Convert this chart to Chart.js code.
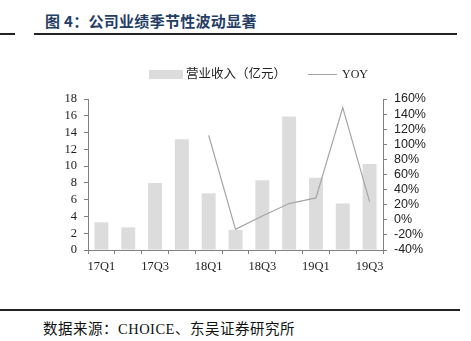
<!DOCTYPE html>
<html>
<head>
<meta charset="utf-8">
<script src="https://cdn.jsdelivr.net/npm/chart.js@4/dist/chart.umd.min.js"></script>
<style>
  html, body { margin: 0; padding: 0; background: #fff; }
  body { width: 471px; height: 341px; position: relative; overflow: hidden; }
  #title {
    position: absolute; left: 45px; top: 10px;
    font: bold 15px "Noto Sans CJK SC", sans-serif; color: #243e66;
    letter-spacing: 0.3px;
  }
  .rule { position: absolute; height: 2px; background: #222; }
  #source {
    position: absolute; left: 43px; top: 317px;
    font: 14.5px "Liberation Serif", "Noto Sans CJK SC", serif; color: #111;
    letter-spacing: 0.5px;
  }
  #wrap { position: absolute; left: 0; top: 60px; width: 471px; height: 240px; }
</style>
</head>
<body>
<div id="title">图 4：公司业绩季节性波动显著</div>
<div class="rule" style="left:0;top:33px;width:15px"></div>
<div class="rule" style="left:34px;top:33px;width:423px"></div>
<div id="wrap"><canvas id="myChart" width="471" height="240"></canvas></div>
<div class="rule" style="left:0;top:309px;width:460px"></div>
<div id="source">数据来源：CHOICE、东吴证券研究所</div>

<script>
// quarters shown on the x axis
const quarters = ['17Q1', '17Q2', '17Q3', '17Q4', '18Q1', '18Q2', '18Q3', '18Q4', '19Q1', '19Q2', '19Q3'];
// revenue per quarter (亿元)
const revenue = [3.3, 2.7, 8.0, 13.2, 6.75, 2.4, 8.3, 15.9, 8.6, 5.55, 10.25];
// year-over-year growth (%), no comparison for 2017
const yoy = [null, null, null, null, 112, -12.6, 5, 21.5, 29, 148.5, 24];

const axisColor = '#808080';

// legend drawn by hand so the two items can have different swatch shapes
const legendPlugin = {
    id: 'manualLegend',
    afterDraw(chart) {
        const ctx = chart.ctx;
        ctx.save();
        ctx.fillStyle = '#dcdcdc';
        ctx.fillRect(149, 10, 34, 9);
        ctx.strokeStyle = '#a5a5a5';
        ctx.lineWidth = 1;
        ctx.beginPath();
        ctx.moveTo(308, 14.5);
        ctx.lineTo(337, 14.5);
        ctx.stroke();
        ctx.fillStyle = '#222';
        ctx.textBaseline = 'middle';
        ctx.font = '12.5px "Liberation Serif", "Noto Sans CJK SC", serif';
        ctx.fillText('营业收入（亿元）', 186, 15);
        ctx.font = '12px "Liberation Serif", serif';
        ctx.fillText('YOY', 342, 15);
        ctx.restore();
    }
};

const ctx = document.getElementById('myChart').getContext('2d');
new Chart(ctx, {
    type: 'bar',
    data: {
        labels: quarters,
        datasets: [{
            type: 'line',
            label: 'YOY',
            data: yoy,
            yAxisID: 'y1',
            borderColor: '#a5a5a5',
            borderWidth: 1.2,
            pointRadius: 0,
            tension: 0,
            spanGaps: false,
            order: 0
        }, {
            label: '营业收入（亿元）',
            data: revenue,
            yAxisID: 'y',
            backgroundColor: '#dcdcdc',
            borderWidth: 0,
            barPercentage: 0.52,
            categoryPercentage: 1,
            order: 1
        }]
    },
    options: {
        responsive: false,
        devicePixelRatio: 1,
        animation: false,
        layout: { padding: { left: 50, right: 5, top: 39, bottom: 0 } },
        plugins: {
            legend: { display: false },
            tooltip: { enabled: false }
        },
        scales: {
            x: {
                offset: true,
                grid: {
                    offset: true,
                    drawOnChartArea: false,
                    tickLength: 4,
                    color: axisColor
                },
                border: { color: axisColor },
                ticks: {
                    autoSkip: false,
                    maxRotation: 0,
                    padding: 5,
                    color: '#222',
                    font: { family: 'Liberation Serif', size: 12.5 },
                    callback: (v, i) => (i % 2 === 0 ? quarters[i] : '')
                },
                afterFit: (s) => { s.height = 50; }
            },
            y: {
                position: 'left',
                min: 0,
                max: 18,
                grid: { drawOnChartArea: false, tickLength: 4, color: axisColor },
                border: { color: axisColor },
                ticks: {
                    autoSkip: false,
                    stepSize: 2,
                    padding: 7,
                    color: '#222',
                    font: { family: 'Liberation Serif', size: 12.5 }
                },
                afterFit: (s) => { s.width = 38; }
            },
            y1: {
                position: 'right',
                min: -40,
                max: 160,
                grid: { drawOnChartArea: false, tickLength: 4, color: axisColor },
                border: { color: axisColor },
                ticks: {
                    autoSkip: false,
                    stepSize: 20,
                    padding: 7,
                    color: '#222',
                    font: { family: 'Liberation Sans', size: 12.5 },
                    callback: (v) => v + '%'
                },
                afterFit: (s) => { s.width = 83; }
            }
        }
    },
    plugins: [legendPlugin]
});
</script>
</body>
</html>
